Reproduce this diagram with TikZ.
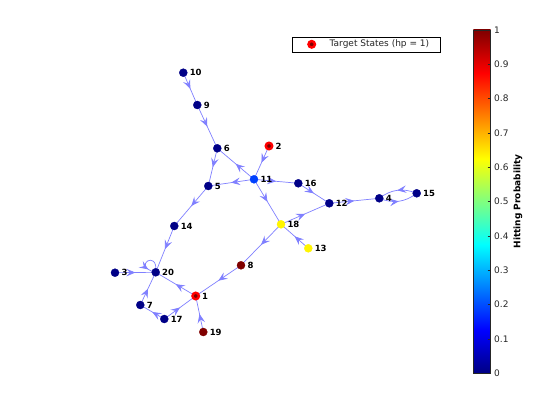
\documentclass[tikz,border=0pt]{standalone}
\usepackage{fontspec}
\setmainfont{DejaVu Sans}
\usetikzlibrary{arrows.meta,decorations.markings}
\definecolor{edgec}{RGB}{128,128,255}
\definecolor{dblue}{RGB}{0,0,135}
\definecolor{nblue}{RGB}{0,64,255}
\definecolor{nyellow}{RGB}{255,245,0}
\definecolor{dred}{RGB}{128,0,0}
\definecolor{tred}{RGB}{255,0,0}
\definecolor{axgray}{RGB}{38,38,38}
\pgfdeclareverticalshading{jetshade}{100bp}{rgb(0bp)=(0,0,0.5156); rgb(25bp)=(0,0,0.5156); rgb(31.25bp)=(0,0,1); rgb(43.75bp)=(0,1,1); rgb(56.25bp)=(1,1,0); rgb(68.75bp)=(1,0,0); rgb(75bp)=(0.5,0,0); rgb(100bp)=(0.5,0,0)}
\tikzset{
  vtx/.style={circle, minimum size=8pt, inner sep=0pt, fill=#1, draw=#1},
  tgt/.style={circle, minimum size=6.5pt, inner sep=0pt, fill=dred, draw=tred, line width=2.4pt},
  lbl/.style={anchor=west, inner sep=0pt, xshift=6.3pt, font=\bfseries\fontsize{8.5}{9}\selectfont},
  conn/.style={draw=edgec, line width=0.7pt},
  midarrow/.style={postaction={decorate}, decoration={markings, mark=at position 0.5 with {\arrow[edgec]{Stealth[length=9pt,width=7.5pt,inset=3.5pt]}}}},
  looparrow/.style={postaction={decorate}, decoration={markings, mark=at position 0.78 with {\arrow[edgec]{Stealth[length=9pt,width=7.5pt,inset=3.5pt]}}}},
  tick/.style={anchor=west, inner sep=0pt, text=axgray, font=\fontsize{9}{10}\selectfont}
}
\begin{document}
\begin{tikzpicture}[x=1pt,y=-1pt]
\useasboundingbox[fill=white] (0,0) rectangle (560,420);
% vertex positions
\coordinate (n1) at (195.7,296);
\coordinate (n2) at (269,146);
\coordinate (n3) at (115,272.7);
\coordinate (n4) at (379.3,198.3);
\coordinate (n5) at (208.3,186);
\coordinate (n6) at (217.3,148.3);
\coordinate (n7) at (140.3,305);
\coordinate (n8) at (241,265.3);
\coordinate (n9) at (197.3,105);
\coordinate (n10) at (183.3,72.7);
\coordinate (n11) at (254,179.3);
\coordinate (n12) at (329.3,203.3);
\coordinate (n13) at (308.3,248.3);
\coordinate (n14) at (174.3,226);
\coordinate (n15) at (416.7,193.3);
\coordinate (n16) at (298.3,183.3);
\coordinate (n17) at (164.3,319);
\coordinate (n18) at (281,224.3);
\coordinate (n19) at (203.3,332);
\coordinate (n20) at (155.7,272.3);
% edges
\foreach \a/\b in {10/9,9/6,6/5,11/6,2/11,11/5,11/16,11/18,16/12,12/4,18/12,13/18,18/8,8/1,5/14,14/20,3/20,1/20,7/20,17/7,17/1,19/1}
  \draw[conn,midarrow] (n\a) -- (n\b);
\draw[conn,midarrow] (n4) to[bend right=30] (n15);
\draw[conn,midarrow] (n15) to[bend right=30] (n4);
\draw[conn,looparrow] (n20) .. controls +(3,-24) and +(-25,-6) .. (n20);
% vertices
\foreach \n in {3,4,5,6,7,9,10,12,14,15,16,17,20}
  \node[vtx=dblue] (v\n) at (n\n) {};
\node[vtx=nblue] (v11) at (n11) {};
\node[vtx=nyellow] (v18) at (n18) {};
\node[vtx=nyellow] (v13) at (n13) {};
\node[vtx=dred] (v8) at (n8) {};
\node[vtx=dred] (v19) at (n19) {};
\node[tgt] (v1) at (n1) {};
\node[tgt] (v2) at (n2) {};
% labels
\foreach \n in {1,...,20}
  \node[lbl] (l\n) at (n\n) {\n};
% legend
\node[draw=black, line width=0.5pt, fill=white, minimum width=148pt, minimum height=15pt, inner sep=0pt, anchor=north west] (legend) at (292.3,36.7) {};
\node[tgt] (legmark) at (311.7,44.3) {};
\node[anchor=west, inner sep=0pt, text=axgray, font=\fontsize{9}{10}\selectfont] (legtext) at (329.5,44.3) {Target States (hp = 1)};
% colorbar
\shade[shading=jetshade] (473.3,30) rectangle (490.7,373.3);
\draw[axgray, line width=0.5pt] (473.3,30) rectangle (490.7,373.3);
\foreach \lab [count=\k from 0] in {0,0.1,0.2,0.3,0.4,0.5,0.6,0.7,0.8,0.9,1} {
  \draw[axgray, line width=0.5pt] (487.7,{373.3-\k*34.33}) -- (490.7,{373.3-\k*34.33});
  \node[tick] (t\k) at (494,{373.3-\k*34.33}) {\lab};
}
\node[rotate=90, inner sep=0pt, font=\bfseries\fontsize{9}{10}\selectfont] (cblabel) at (518,201.5) {Hitting Probability};
\end{tikzpicture}
\end{document}
